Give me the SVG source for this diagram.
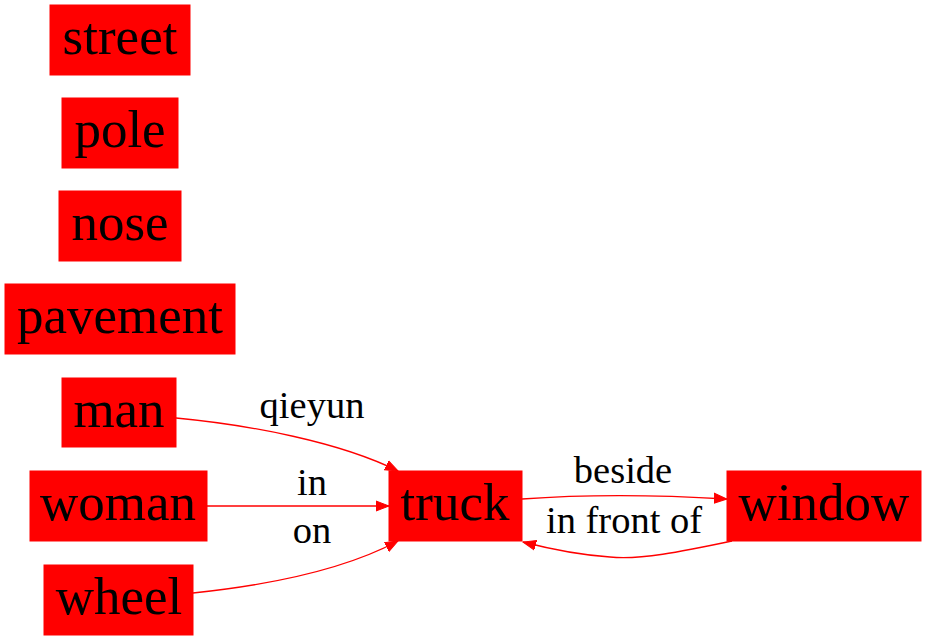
<svg xmlns="http://www.w3.org/2000/svg" width="927" height="640" viewBox="0 0 927 640">
<style>
.n rect{fill:#ff0000;stroke:#ff0000;stroke-width:1}
.n text{font-family:"Liberation Serif","Times New Roman",serif;font-size:53px;fill:#000;text-anchor:middle}
.e path{fill:none;stroke:#ff0000;stroke-width:1.3}
.l{font-family:"Liberation Serif","Times New Roman",serif;font-size:38.5px;fill:#000;text-anchor:middle}
</style>
<defs>
<marker id="ah" markerUnits="userSpaceOnUse" markerWidth="14" markerHeight="12" viewBox="0 0 14 12" refX="13" refY="6" orient="auto">
<path d="M0,1 L13,6 L0,11 Z" fill="#ff0000" stroke="#ff0000"/>
</marker>
</defs>
<rect width="927" height="640" fill="#fff"/>
<g id="connectors" class="e">
<path d="M176,418 C250,425 340,442 398,471" marker-end="url(#ah)"/>
<path d="M207,506 L389,506" marker-end="url(#ah)"/>
<path d="M193,593 C260,586 340,572 398,541" marker-end="url(#ah)"/>
<path d="M522,499 C590,494 660,495 727,499" marker-end="url(#ah)"/>
<path d="M732,541 C680,552 640,560 610,557 C580,555 550,549 523,542" marker-end="url(#ah)"/>
<text class="l" x="312" y="418">qieyun</text>
<text class="l" x="312" y="495">in</text>
<text class="l" x="312" y="543">on</text>
<text class="l" x="623" y="483">beside</text>
<text class="l" x="624" y="533">in front of</text>
</g>
<g id="street" class="n"><rect x="50" y="5" width="140" height="70"/><text x="120" y="54">street</text></g>
<g id="pole" class="n"><rect x="62" y="98" width="116" height="70"/><text x="120" y="147">pole</text></g>
<g id="nose" class="n"><rect x="59" y="191" width="122" height="70"/><text x="120" y="240">nose</text></g>
<g id="pavement" class="n"><rect x="5" y="284" width="230" height="70"/><text x="120" y="333">pavement</text></g>
<g id="man" class="n"><rect x="62" y="378" width="114" height="69"/><text x="119" y="427">man</text></g>
<g id="woman" class="n"><rect x="30" y="471" width="177" height="70"/><text x="118" y="520">woman</text></g>
<g id="wheel" class="n"><rect x="44" y="565" width="149" height="70"/><text x="119" y="614">wheel</text></g>
<g id="truck" class="n"><rect x="389" y="471" width="133" height="70"/><text x="455" y="520">truck</text></g>
<g id="window" class="n"><rect x="727" y="471" width="194" height="70"/><text x="824" y="520">window</text></g>
</svg>
